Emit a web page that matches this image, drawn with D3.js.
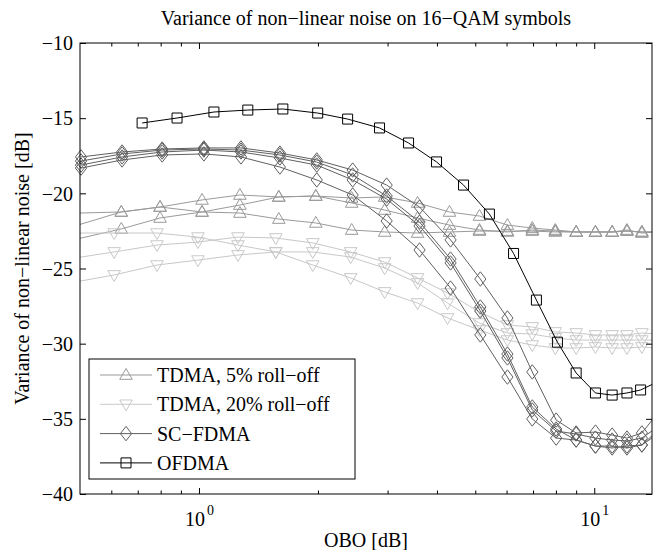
<!DOCTYPE html>
<html><head><meta charset="utf-8">
<script src="https://cdn.jsdelivr.net/npm/d3@7"></script>
<style>
html,body{margin:0;padding:0;background:#fff;}
svg{display:block;font-family:"Liberation Serif","DejaVu Serif",serif;}
svg text{font-family:"Liberation Serif","DejaVu Serif",serif;}
</style></head>
<body><svg id="c" width="660" height="550"></svg>
<script>
// ---------- data ----------
const titleText = "Variance of non\u2212linear noise on 16\u2212QAM symbols";
const xLabelText = "OBO [dB]";
const yLabelText = "Variance of non\u2212linear noise [dB]";
const legendLabels = ["TDMA, 5% roll\u2212off", "TDMA, 20% roll\u2212off", "SC\u2212FDMA", "OFDMA"];
const yTicks = [-40, -35, -30, -25, -20, -15, -10];
const xMajorTicks = [1, 10];
const xMinorTicks = [0.6, 0.7, 0.8, 0.9, 2, 3, 4, 5, 6, 7, 8, 9];

const ofdmaX = [0.718, 0.880, 1.091, 1.329, 1.630, 1.997, 2.377, 2.863, 3.39, 3.99, 4.67, 5.43, 6.25, 7.14, 8.07, 9.00, 10.07, 11.1, 12.1, 13.1, 14.3];
const ofdmaY = [-15.32, -14.99, -14.59, -14.46, -14.39, -14.66, -15.06, -15.65, -16.65, -17.91, -19.45, -21.38, -24.0, -27.1, -29.9, -31.95, -33.28, -33.42, -33.28, -33.08, -32.6];

const scX = [0.503, 0.639, 0.807, 1.029, 1.277, 1.602, 1.986, 2.448, 2.984, 3.614, 4.33, 5.15, 6.03, 6.97, 8.01, 9.00, 10.07, 11.1, 12.1, 13.2, 14.34];
const scY1 = [-17.58, -17.25, -17.05, -16.98, -16.98, -17.32, -17.78, -18.45, -19.45, -20.91, -23.10, -25.70, -28.29, -31.88, -35.08, -35.94, -35.88, -36.08, -36.28, -35.94, -34.75];
const scY2 = [-17.85, -17.38, -17.12, -17.05, -17.12, -17.45, -17.92, -18.78, -20.18, -21.91, -24.37, -27.56, -30.69, -34.21, -35.68, -36.41, -36.81, -36.81, -36.94, -36.74, -35.88];
const scY3 = [-18.12, -17.58, -17.25, -17.12, -17.25, -17.65, -18.12, -19.11, -20.38, -22.17, -24.63, -27.83, -30.95, -34.41, -35.81, -36.01, -36.28, -36.41, -36.47, -36.28, -35.61];
const scY4 = [-18.32, -17.78, -17.45, -17.38, -17.58, -18.25, -19.11, -20.11, -21.84, -23.77, -26.30, -29.42, -32.22, -35.01, -36.28, -36.41, -36.81, -36.94, -36.81, -36.74, -36.08];

const t5X = [0.470, 0.636, 0.797, 1.018, 1.269, 1.592, 1.975, 2.434, 2.95, 3.573, 4.303, 5.124, 6.03, 6.97, 7.97, 9.00, 10.07, 11.1, 12.1, 13.2, 14.34];
const t5Y1 = [-22.28, -21.24, -20.91, -20.44, -20.11, -20.24, -20.18, -20.31, -20.24, -20.64, -21.24, -21.51, -22.11, -22.31, -22.44, -22.57, -22.57, -22.57, -22.44, -22.64, -22.57];
const t5Y2 = [-21.33, -21.24, -20.91, -21.24, -21.31, -21.71, -21.97, -22.44, -22.57, -22.64, -22.57, -22.51, -22.51, -22.51, -22.57, -22.57, -22.57, -22.57, -22.51, -22.57, -22.57];
const t5Y3 = [-23.15, -22.37, -21.64, -21.24, -20.78, -20.24, -20.18, -20.64, -21.11, -21.64, -22.11, -22.44, -22.57, -22.44, -22.51, -22.57, -22.57, -22.57, -22.51, -22.57, -22.57];

const t20X = [0.472, 0.610, 0.783, 0.994, 1.255, 1.564, 1.941, 2.42, 2.95, 3.573, 4.254, 5.124, 6.03, 6.97, 7.97, 9.00, 10.07, 11.1, 12.1, 13.2, 14.34];
const t20Y1 = [-22.64, -22.64, -22.64, -22.91, -23.44, -23.90, -24.77, -25.63, -26.56, -27.30, -28.29, -29.09, -29.76, -30.09, -30.29, -30.29, -30.22, -30.29, -30.29, -30.22, -30.29];
const t20Y2 = [-24.35, -23.90, -23.44, -23.24, -22.91, -22.97, -23.30, -23.90, -24.57, -25.63, -26.63, -27.89, -28.76, -28.89, -29.22, -29.29, -29.42, -29.42, -29.42, -29.29, -29.36];
const t20Y3 = [-25.96, -25.43, -24.77, -24.44, -24.10, -23.90, -23.90, -24.24, -24.97, -25.96, -27.30, -28.63, -29.29, -29.36, -29.62, -29.76, -29.76, -29.76, -29.76, -29.76, -29.76];

// ---------- chart ----------
const FONT = "Liberation Serif, DejaVu Serif, serif";
const svg = d3.select("#c");
const L = 80, R = 652, T = 43, B = 494;
const x = d3.scaleLog().domain([0.5, 14]).range([L, R]);
const y = d3.scaleLinear().domain([-40, -10]).range([B, T]);

const styles = {
  t5:  {color: "#9a9a9a", marker: "tri"},
  t20: {color: "#c8c8c8", marker: "tridown"},
  sc:  {color: "#606060", marker: "diamond"},
  of:  {color: "#000000", marker: "square"}
};
function markerPath(type) {
  if (type === "tri") return "M0,-6.5L6.3,4.3L-6.3,4.3Z";
  if (type === "tridown") return "M0,6.5L6.3,-4.3L-6.3,-4.3Z";
  if (type === "diamond") return "M0,-7.2L5.6,0L0,7.2L-5.6,0Z";
  return "M-5,-5H5V5H-5Z";
}
const series = [
  {xs: t5X, ys: t5Y1, s: styles.t5}, {xs: t5X, ys: t5Y2, s: styles.t5}, {xs: t5X, ys: t5Y3, s: styles.t5},
  {xs: t20X, ys: t20Y1, s: styles.t20}, {xs: t20X, ys: t20Y2, s: styles.t20}, {xs: t20X, ys: t20Y3, s: styles.t20},
  {xs: scX, ys: scY1, s: styles.sc}, {xs: scX, ys: scY2, s: styles.sc}, {xs: scX, ys: scY3, s: styles.sc}, {xs: scX, ys: scY4, s: styles.sc},
  {xs: ofdmaX, ys: ofdmaY, s: styles.of}
];

svg.append("defs").append("clipPath").attr("id", "clip")
  .append("rect").attr("x", L).attr("y", T).attr("width", R - L).attr("height", B - T);

const line = d3.line().x(d => x(d[0])).y(d => y(d[1]));
const plot = svg.append("g");
series.forEach(sr => {
  const pts = sr.xs.map((v, i) => [v, sr.ys[i]]);
  plot.append("path").attr("d", line(pts)).attr("fill", "none")
    .attr("stroke", sr.s.color).attr("stroke-width", 1).attr("clip-path", "url(#clip)");
  plot.selectAll(null).data(pts.filter(p => p[0] >= 0.5 && p[0] <= 14)).enter().append("path")
    .attr("d", markerPath(sr.s.marker))
    .attr("transform", p => `translate(${x(p[0])},${y(p[1])})`)
    .attr("fill", "none").attr("stroke", sr.s.color).attr("stroke-width", 1);
});

// axes
const fmtMinus = d => (d < 0 ? "\u2212" : "") + Math.abs(d);
const gB = svg.append("g").attr("transform", `translate(0,${B})`)
  .call(d3.axisBottom(x).tickValues(xMajorTicks).tickSize(-6).tickFormat(""));
const gBm = svg.append("g").attr("transform", `translate(0,${B})`)
  .call(d3.axisBottom(x).tickValues(xMinorTicks).tickSize(-3.5).tickFormat(""));
const gT = svg.append("g").attr("transform", `translate(0,${T})`)
  .call(d3.axisTop(x).tickValues(xMajorTicks).tickSize(-6).tickFormat(""));
const gTm = svg.append("g").attr("transform", `translate(0,${T})`)
  .call(d3.axisTop(x).tickValues(xMinorTicks).tickSize(-3.5).tickFormat(""));
const gL = svg.append("g").attr("transform", `translate(${L},0)`)
  .call(d3.axisLeft(y).tickValues(yTicks).tickSize(-6).tickPadding(7).tickFormat(fmtMinus));
const gR = svg.append("g").attr("transform", `translate(${R},0)`)
  .call(d3.axisRight(y).tickValues(yTicks).tickSize(-6).tickFormat(""));
[gB, gBm, gT, gTm, gL, gR].forEach(g => {
  g.attr("font-family", FONT).attr("font-size", 20);
  g.select(".domain").remove();
  g.selectAll(".tick line").attr("stroke", "#000").attr("stroke-width", 1);
});
gL.selectAll(".tick text").attr("font-size", 20).attr("font-family", FONT)
  .attr("fill", "#000").attr("dy", "0.34em");

// x tick labels 10^n
svg.append("g").selectAll("text").data(xMajorTicks).enter().append("text")
  .attr("x", d => x(d) - 14).attr("y", 526).attr("font-size", 20).attr("font-family", FONT).attr("fill", "#000")
  .each(function(d) {
    const t = d3.select(this);
    t.append("tspan").text("10");
    t.append("tspan").attr("font-size", 14).attr("dy", -11).attr("dx", 2).text(String(Math.round(Math.log10(d))));
  });

svg.append("rect").attr("x", L).attr("y", T).attr("width", R - L).attr("height", B - T)
  .attr("fill", "none").attr("stroke", "#000").attr("stroke-width", 1);

// labels
svg.append("text").attr("x", (L + R) / 2).attr("y", 25).attr("text-anchor", "middle")
  .attr("font-size", 20).attr("font-family", FONT).attr("fill", "#000").text(titleText);
svg.append("text").attr("x", (L + R) / 2).attr("y", 547).attr("text-anchor", "middle")
  .attr("font-size", 20).attr("font-family", FONT).attr("fill", "#000").text(xLabelText);
svg.append("text").attr("transform", `translate(29,${(T + B) / 2}) rotate(-90)`).attr("text-anchor", "middle")
  .attr("font-size", 20).attr("font-family", FONT).attr("fill", "#000").text(yLabelText);

// legend
const lg = svg.append("g");
lg.append("rect").attr("x", 89).attr("y", 359).attr("width", 266).attr("height", 120)
  .attr("fill", "#fff").attr("stroke", "#000").attr("stroke-width", 1);
const legStyles = [styles.t5, styles.t20, styles.sc, styles.of];
legendLabels.forEach((lab, i) => {
  const cy = 375 + i * 29.3;
  lg.append("line").attr("x1", 100).attr("x2", 152).attr("y1", cy).attr("y2", cy)
    .attr("stroke", legStyles[i].color).attr("stroke-width", 1);
  lg.append("path").attr("d", markerPath(legStyles[i].marker)).attr("transform", `translate(126,${cy})`)
    .attr("fill", "none").attr("stroke", legStyles[i].color).attr("stroke-width", 1);
  lg.append("text").attr("x", 157).attr("y", cy + 7).attr("font-size", 20).attr("font-family", FONT)
    .attr("fill", "#000").text(lab);
});
</script></body></html>
